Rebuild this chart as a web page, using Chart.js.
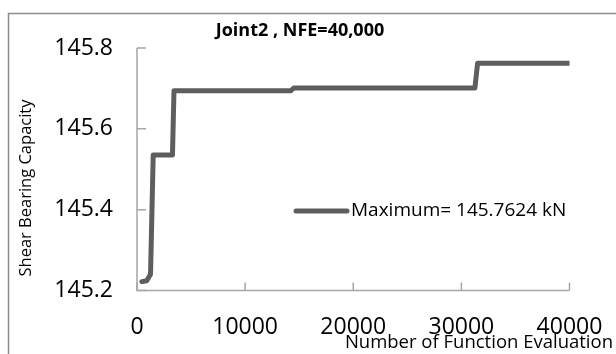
<!DOCTYPE html>
<html>
<head>
<meta charset="utf-8">
<script src="https://cdn.jsdelivr.net/npm/chart.js@4.4.1/dist/chart.umd.min.js"></script>
<style>
  html, body { margin: 0; padding: 0; background: #fff; }
  #wrap { width: 616px; height: 354px; position: relative; }
</style>
</head>
<body>
<div id="wrap"><canvas id="c" width="616" height="354"></canvas></div>
<script>
// Best shear bearing capacity found so far vs. function evaluations
const evaluations = [450, 900, 1250, 1500, 3280, 3420, 14200, 14500, 31250, 31500, 40000];
const capacity    = [145.222, 145.224, 145.24, 145.535, 145.535, 145.694, 145.694, 145.701, 145.701, 145.7624, 145.7624];
const xTicks = [0, 10000, 20000, 30000, 40000];
const yTicks = [145.2, 145.4, 145.6, 145.8];

const chartTitle = 'Joint2 , NFE=40,000';
const xTitle = 'Number of Function Evaluation';
const yTitle = 'Shear Bearing Capacity';
const legendLabel = 'Maximum= 145.7624 kN';

const FONT = '"Open Sans", "DejaVu Sans", sans-serif';
const LINE = '#5e5e5e';
const AXIS = '#a6a6a6';

const points = evaluations.map((x, i) => ({ x, y: capacity[i] }));

// Frame, inward tick marks, titles and legend
const decor = {
  id: 'decor',
  beforeDraw(chart) {
    const ctx = chart.ctx;
    ctx.save();
    ctx.strokeStyle = '#8c8c8c';
    ctx.lineWidth = 1.5;
    ctx.beginPath();
    ctx.moveTo(8.5, 354);
    ctx.lineTo(8.5, 13.5);
    ctx.lineTo(616, 13.5);
    ctx.stroke();
    ctx.restore();
  },
  afterDatasetsDraw(chart) {
    const { ctx, chartArea: a, scales: { x, y } } = chart;
    ctx.save();
    // axis lines
    ctx.strokeStyle = AXIS;
    ctx.lineWidth = 1.5;
    ctx.beginPath();
    ctx.moveTo(a.left, a.top);
    ctx.lineTo(a.left, a.bottom);
    ctx.lineTo(a.right, a.bottom);
    ctx.stroke();
    // tick marks pointing into the plot
    ctx.beginPath();
    yTicks.forEach(v => {
      const py = y.getPixelForValue(v);
      ctx.moveTo(a.left, py);
      ctx.lineTo(a.left + 9, py);
    });
    xTicks.forEach(v => {
      const px = x.getPixelForValue(v);
      ctx.moveTo(px, a.bottom);
      ctx.lineTo(px, a.bottom - 8);
    });
    ctx.stroke();

    // legend
    ctx.strokeStyle = LINE;
    ctx.lineWidth = 5;
    ctx.lineCap = 'round';
    ctx.beginPath();
    ctx.moveTo(296, 211);
    ctx.lineTo(347, 211);
    ctx.stroke();
    ctx.fillStyle = '#000';
    ctx.textBaseline = 'middle';
    ctx.textAlign = 'left';
    ctx.font = '19px ' + FONT;
    ctx.fillText(legendLabel, 351, 211);

    // chart title
    ctx.font = 'bold 18px ' + FONT;
    ctx.textAlign = 'center';
    ctx.fillText(chartTitle, 300, 31);

    // x axis title
    ctx.font = '18.5px ' + FONT;
    ctx.textAlign = 'right';
    ctx.fillText(xTitle, 613, 343);

    // y axis title
    ctx.font = '16.5px ' + FONT;
    ctx.translate(26, 188);
    ctx.rotate(-Math.PI / 2);
    ctx.textAlign = 'center';
    ctx.fillText(yTitle, 0, 0);
    ctx.restore();
  }
};

new Chart(document.getElementById('c'), {
  type: 'line',
  data: {
    datasets: [{
      label: legendLabel,
      data: points,
      borderColor: LINE,
      borderWidth: 5,
      borderCapStyle: 'round',
      borderJoinStyle: 'round',
      pointRadius: 0,
      fill: false,
      tension: 0
    }]
  },
  options: {
    responsive: false,
    animation: false,
    layout: { padding: { left: 0, right: 46.5, top: 48, bottom: 0 } },
    plugins: { legend: { display: false }, title: { display: false }, tooltip: { enabled: false } },
    scales: {
      x: {
        type: 'linear',
        min: 0, max: 40000,
        afterBuildTicks: s => { s.ticks = xTicks.map(v => ({ value: v })); },
        afterFit: s => { s.height = 354 - 290.5; s.paddingLeft = 0; s.paddingRight = 0; },
        grid: { display: false, drawTicks: false },
        border: { display: false },
        ticks: {
          color: '#000',
          font: { family: FONT, size: 23 },
          padding: 23,
          maxRotation: 0,
          autoSkip: false,
          callback: v => String(v)
        }
      },
      y: {
        type: 'linear',
        min: 145.2, max: 145.8,
        afterBuildTicks: s => { s.ticks = yTicks.map(v => ({ value: v })); },
        afterFit: s => { s.width = 137; },
        grid: { display: false, drawTicks: false },
        border: { display: false },
        ticks: {
          color: '#000',
          font: { family: FONT, size: 23 },
          padding: 24,
          autoSkip: false,
          callback: v => v.toFixed(1)
        }
      }
    }
  },
  plugins: [decor]
});
</script>
</body>
</html>
